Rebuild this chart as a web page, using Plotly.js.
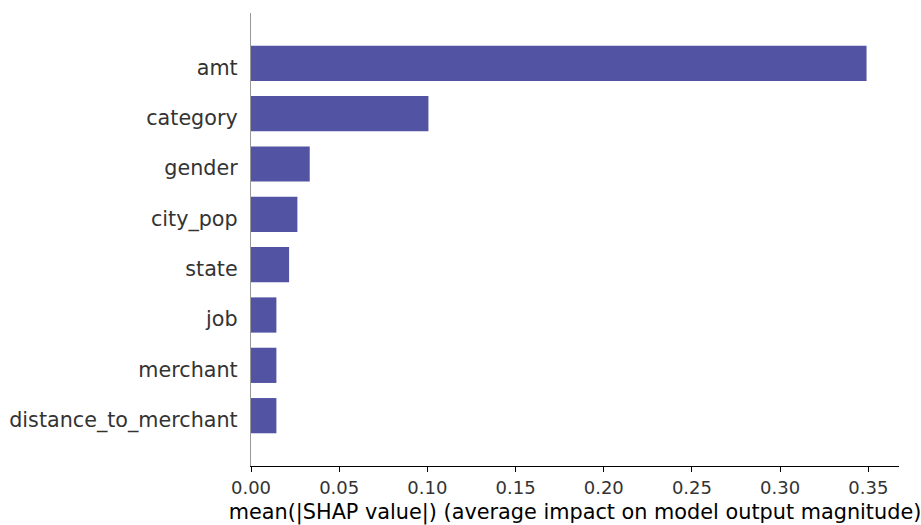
<!DOCTYPE html>
<html>
<head>
<meta charset="utf-8">
<script src="https://cdn.plot.ly/plotly-3.0.1.min.js"></script>
<style>
  html, body { margin: 0; padding: 0; background: #ffffff; }
  #chart { width: 921px; height: 525px; }
</style>
</head>
<body>
<div id="chart"></div>
<script>
// Feature names, most important first
const features = ["amt", "category", "gender", "city_pop", "state", "job", "merchant", "distance_to_merchant"];
// Mean absolute SHAP value per feature
const meanAbsShap = [0.349, 0.1006, 0.0333, 0.0263, 0.0216, 0.0144, 0.0144, 0.0144];
// X-axis tick values and labels
const xTickVals = [0, 0.05, 0.10, 0.15, 0.20, 0.25, 0.30, 0.35];
const xTickText = ["0.00", "0.05", "0.10", "0.15", "0.20", "0.25", "0.30", "0.35"];

// Bars are stacked bottom-up: least important feature at position 0
const n = features.length;
const yPos = features.map((_, i) => n - 1 - i);

const trace = {
  type: "bar",
  orientation: "h",
  x: meanAbsShap,
  y: yPos,
  width: 0.7,
  marker: { color: "#5254a3", line: { width: 0 } },
  hoverinfo: "x+text",
  text: features,
  textposition: "none"
};

const layout = {
  width: 921,
  height: 525,
  margin: { l: 251, r: 22, t: 13, b: 59, pad: 0 },
  paper_bgcolor: "#ffffff",
  plot_bgcolor: "#ffffff",
  showlegend: false,
  font: { family: "DejaVu Sans, sans-serif", color: "#333333" },
  xaxis: {
    range: [0, 0.3674],
    tickvals: xTickVals,
    ticktext: xTickText,
    showgrid: false,
    zeroline: false,
    showline: true,
    linecolor: "#000000",
    linewidth: 1.2,
    ticks: "outside",
    ticklen: 5,
    tickwidth: 1,
    tickcolor: "#000000",
    tickfont: { size: 18, color: "#333333" },
    title: {
      text: "mean(|SHAP value|) (average impact on model output magnitude)",
      font: { size: 20.8, color: "#000000" },
      standoff: 7
    }
  },
  yaxis: {
    range: [-1, n],
    tickvals: yPos,
    ticktext: features,
    showgrid: false,
    zeroline: false,
    showline: true,
    linecolor: "#999999",
    linewidth: 1.2,
    ticks: "",
    ticklabelstandoff: 8,
    ticklabelshift: 4,
    tickfont: { size: 20.7, color: "#333333" }
  }
};

Plotly.newPlot("chart", [trace], layout, { staticPlot: true, displayModeBar: false });
</script>
</body>
</html>
